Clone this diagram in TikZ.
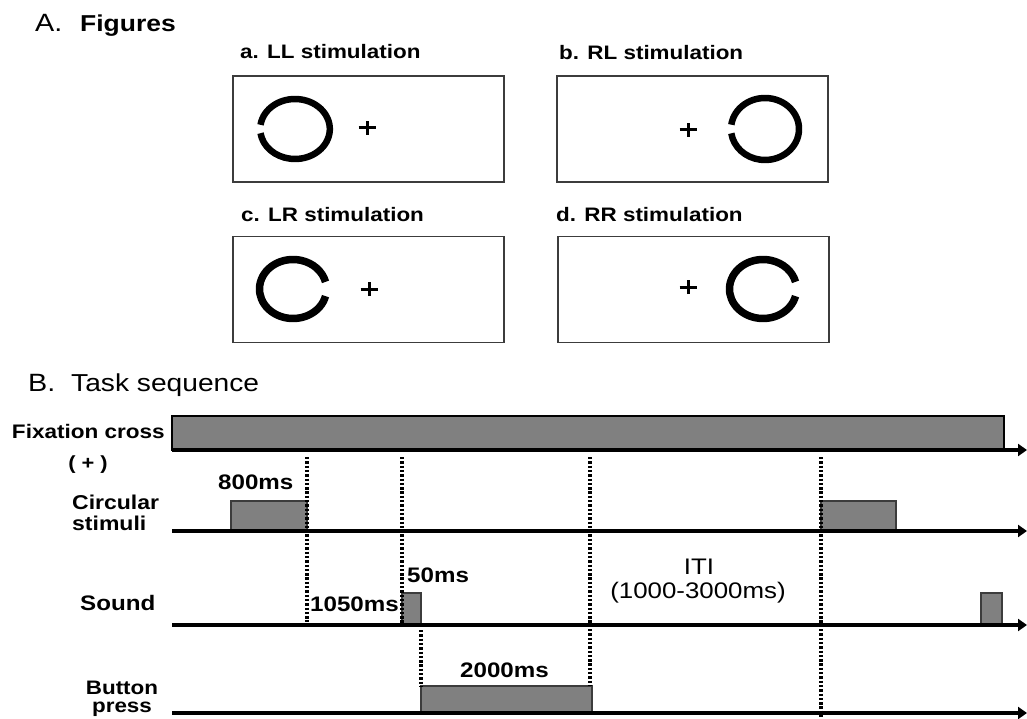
\documentclass[tikz,border=0pt]{standalone}
\usepackage{fontspec}
\setmainfont{Liberation Sans}
\newfontfamily\wf[FakeStretch=1.15]{Liberation Sans}
\usetikzlibrary{arrows.meta}
\definecolor{bargray}{RGB}{128,128,128}
\definecolor{edgegray}{RGB}{60,60,60}
\begin{document}
\begin{tikzpicture}[x=1pt,y=-1pt,
  txt/.style={inner sep=0pt, font=\wf\bfseries\fontsize{21}{22}\selectfont},
  ttl/.style={inner sep=0pt, font=\wf\bfseries\fontsize{19.5}{22}\selectfont},
  big/.style={inner sep=0pt, font=\wf\fontsize{25}{27}\selectfont},
  screen/.style={draw=edgegray, line width=1.6pt, inner sep=0pt, minimum width=271pt, minimum height=106pt},
  ringA/.style={line width=6.5pt, line cap=butt},
  ringB/.style={line width=7.5pt, line cap=butt},
  crossline/.style={line width=3pt},
  axis/.style={line width=4pt, -{Triangle[length=9pt,width=12pt]}},
  bar/.style={draw=edgegray, line width=1.2pt, fill=bargray},
  dots/.style={line width=3.2pt, dash pattern=on 2.4pt off 1.9pt},
]
\useasboundingbox (0,0) rectangle (1027,719);

% ---------- A. Figures ----------
\node[big, anchor=base west] (ta) at (35,32) {A.};
\node[big, anchor=base west, font=\wf\bfseries\fontsize{23}{26}\selectfont] (tfig) at (80,32) {Figures};

\node[ttl, anchor=base west] (la) at (240,59) {a. LL stimulation};
\node[ttl, anchor=base west] (lb) at (559,60) {b. RL stimulation};
\node[ttl, anchor=base west] (lc) at (241,222) {c. LR stimulation};
\node[ttl, anchor=base west] (ld) at (556,222) {d. RR stimulation};

\node[screen] (sa) at (368.5,129) {};
\node[screen] (sb) at (692.5,129) {};
\node[screen] (sc) at (368.5,289.5) {};
\node[screen] (sd) at (693.5,289.5) {};

% a: left field, gap left
\coordinate (ca) at (295,129);
\draw[ringA] (ca) ++(188:34.8 and 30) arc[start angle=188, end angle=532, x radius=34.8, y radius=30];
\coordinate (xa) at (367,128);
\draw[crossline] ([xshift=-8.5pt]xa) -- ([xshift=8.5pt]xa) ([yshift=-7pt]xa) -- ([yshift=7pt]xa);

% b: right field, gap left
\coordinate (cb) at (765,129);
\draw[ringA] (cb) ++(188:34 and 31) arc[start angle=188, end angle=532, x radius=34, y radius=31];
\coordinate (xb) at (688,130);
\draw[crossline] ([xshift=-8.5pt]xb) -- ([xshift=8.5pt]xb) ([yshift=-7pt]xb) -- ([yshift=7pt]xb);

% c: left field, gap right
\coordinate (cc) at (293,289);
\draw[ringB] (cc) ++(14:33.5 and 29.5) arc[start angle=14, end angle=346, x radius=33.5, y radius=29.5];
\coordinate (xc) at (369,289);
\draw[crossline] ([xshift=-8.5pt]xc) -- ([xshift=8.5pt]xc) ([yshift=-7pt]xc) -- ([yshift=7pt]xc);

% d: right field, gap right
\coordinate (cd) at (763,289);
\draw[ringB] (cd) ++(14:33.5 and 29.5) arc[start angle=14, end angle=346, x radius=33.5, y radius=29.5];
\coordinate (xd) at (688,287);
\draw[crossline] ([xshift=-8.5pt]xd) -- ([xshift=8.5pt]xd) ([yshift=-7pt]xd) -- ([yshift=7pt]xd);

% ---------- B. Task sequence ----------
\node[big, anchor=base west] (tb) at (28,391) {B.};
\node[big, anchor=base west, font=\wf\fontsize{24.5}{26}\selectfont] (tts) at (71,391) {Task sequence};

% axes
\coordinate (a1s) at (172,450); \coordinate (a1e) at (1027,450);
\coordinate (a2s) at (172,531); \coordinate (a2e) at (1027,531);
\coordinate (a3s) at (172,625); \coordinate (a3e) at (1027,625);
\coordinate (a4s) at (172,713); \coordinate (a4e) at (1027,713);

% fixation bar
\draw[line width=2.6pt, fill=bargray] (172,416) rectangle (1004,450);

% stimulus bars
\draw[bar] (231,501) rectangle (307,531);
\draw[bar] (821,501) rectangle (896,531);
\draw[bar] (402,593) rectangle (421,625);
\draw[bar] (981,593) rectangle (1002,625);
\draw[bar] (421,686) rectangle (592,713);

% dotted lines
\draw[dots] (307,457) -- (307,622);
\draw[dots] (402,457) -- (402,623);
\draw[dots] (421,630) -- (421,686);
\draw[dots] (590,457) -- (590,686);
\draw[dots] (821,457) -- (821,719);

\draw[axis] (a1s) -- (a1e);
\draw[axis] (a2s) -- (a2e);
\draw[axis] (a3s) -- (a3e);
\draw[axis] (a4s) -- (a4e);

% labels
\node[txt, anchor=base east, font=\wf\bfseries\fontsize{19.6}{22}\selectfont] (lfix) at (165,438) {Fixation cross};
\node[txt, anchor=base, font=\wf\bfseries\fontsize{19}{22}\selectfont] (lplus) at (88,469) {( + )};
\node[txt, anchor=base west, align=left, font=\wf\bfseries\fontsize{20}{21}\selectfont] (lcirc) at (72,530) {Circular\\stimuli};
\node[txt, anchor=base west] (lsound) at (80,610) {Sound};
\node[txt, anchor=base, align=center, font=\wf\bfseries\fontsize{19.5}{17.5}\selectfont] (lbtn) at (122,712) {Button\\press};

\node[txt, anchor=base west] (l800) at (218,489) {800ms};
\node[txt, anchor=base west] (l1050) at (310,611) {1050ms};
\node[txt, anchor=base west] (l50) at (407,582) {50ms};
\node[txt, anchor=base west] (l2000) at (460,677) {2000ms};
\node[inner sep=0pt, anchor=base, font=\wf\fontsize{22.5}{24}\selectfont] (liti) at (699,574) {ITI};
\node[inner sep=0pt, anchor=base, font=\wf\fontsize{22.5}{24}\selectfont] (liti2) at (698,598) {(1000-3000ms)};
\end{tikzpicture}
\end{document}
